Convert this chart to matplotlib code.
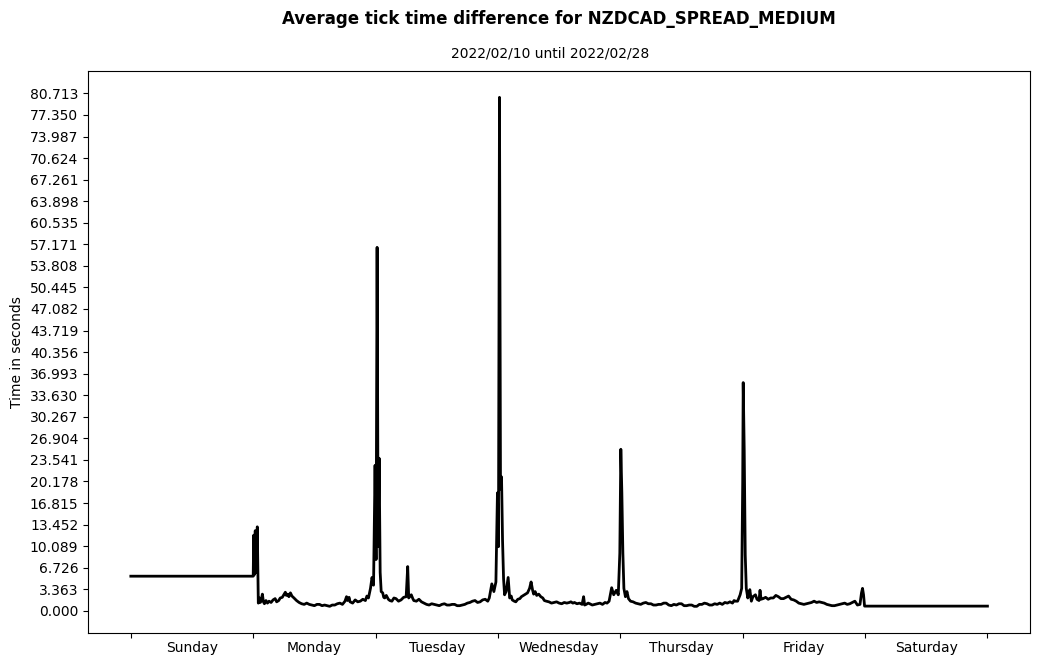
import matplotlib
matplotlib.use("Agg")
import matplotlib.pyplot as plt
from matplotlib.ticker import FixedLocator, NullFormatter, FixedFormatter

# hours since start of the week (Sunday 00:00) and average tick time difference in seconds
hours = [
    0.0, 24.0,
    24.1, 24.2, 24.4, 24.6, 24.8, 25.0, 25.2, 25.4, 25.6, 25.8, 26.0, 26.2, 26.5, 26.8,
    27.1, 27.5, 27.9, 28.3, 28.6, 29.0, 29.3, 29.7, 30.0, 30.3, 30.5, 30.8, 31.0, 31.3,
    31.6, 32.0, 32.5, 33.0, 33.5, 34.0, 34.5, 35.0, 35.5, 36.0, 36.5, 37.0, 37.5, 38.0,
    38.5, 39.0, 39.5, 40.0, 40.5, 41.0, 41.5, 42.0, 42.3, 42.5, 42.8, 43.0, 43.5, 44.0,
    44.5, 45.0, 45.5, 46.0, 46.3, 46.6, 47.0, 47.3, 47.6, 47.9, 48.1, 48.3, 48.5, 48.7,
    48.9, 49.1, 49.4, 49.6, 49.8, 50.1, 50.5, 50.8, 51.2, 51.6, 52.0, 52.5, 53.0, 53.5,
    54.0, 54.3, 54.5, 55.0, 55.3, 55.5, 56.0, 56.5, 57.0, 57.5, 58.0, 58.5, 59.0, 59.5,
    60.0, 60.5, 61.0, 61.5, 62.0, 62.5, 63.0, 63.5, 64.0, 64.5, 65.0, 65.5, 66.0, 66.5,
    67.0, 67.5, 68.0, 68.5, 69.0, 69.5, 70.0, 70.3, 70.8, 71.2, 71.6, 71.9, 72.1, 72.3,
    72.5, 72.7, 72.9, 73.1, 73.3, 73.6, 74.0, 74.3, 74.6, 74.8, 75.2, 75.5, 75.9, 76.3,
    76.6, 77.0, 77.4, 77.8, 78.2, 78.5, 78.8, 79.0, 79.3, 79.6, 80.0, 80.4, 80.8, 81.1,
    81.5, 82.0, 82.5, 83.0, 83.5, 84.0, 84.5, 85.0, 85.5, 86.0, 86.3, 86.7, 87.0, 87.5,
    88.0, 88.5, 88.8, 89.0, 89.3, 89.7, 90.0, 90.5, 91.0, 91.5, 92.0, 92.5, 93.0, 93.4,
    93.8, 94.3, 94.7, 95.2, 95.6, 95.9, 96.1, 96.3, 96.5, 96.7, 97.0, 97.3, 97.6, 98.0,
    98.5, 99.0, 99.5, 100.0, 100.5, 101.0, 101.5, 102.0, 102.5, 103.0, 103.5, 104.0,
    104.5, 105.0, 105.5, 106.0, 106.5, 107.0, 107.5, 108.0, 108.5, 109.0, 109.5, 110.0,
    110.5, 111.0, 111.5, 112.0, 112.5, 113.0, 113.5, 114.0, 114.5, 115.0, 115.5, 116.0,
    116.5, 117.0, 117.5, 118.0, 118.3, 118.6, 119.0, 119.5, 119.8, 120.0, 120.1, 120.3,
    120.5, 120.7, 121.0, 121.2, 121.4, 121.7, 122.0, 122.5, 122.8, 123.2, 123.4, 123.6,
    124.0, 124.5, 125.0, 125.5, 126.0, 126.5, 127.0, 127.5, 128.0, 128.5, 129.0, 129.5,
    130.0, 130.5, 131.0, 131.5, 132.0, 132.5, 133.0, 133.5, 134.0, 134.5, 135.0, 135.5,
    136.0, 136.5, 137.0, 137.5, 138.0, 138.5, 139.0, 139.5, 140.0, 140.5, 141.0, 141.5,
    142.0, 142.5, 143.0, 143.3, 143.5, 143.7, 143.9, 168.0,
]
seconds = [
    5.4, 5.4,
    11.8, 5.6, 12.5, 6.0, 13.1, 1.2, 2.0, 1.3, 1.8, 2.6, 1.4, 1.1, 1.6, 1.2,
    1.5, 1.3, 1.7, 1.9, 1.4, 1.6, 2.0, 2.1, 2.5, 2.9, 2.4, 2.6, 2.2, 2.8,
    2.3, 2.0, 1.6, 1.3, 1.1, 1.0, 1.2, 1.0, 0.9, 0.8, 1.0, 1.0, 0.8, 0.9,
    0.8, 0.7, 0.9, 0.9, 1.1, 1.2, 1.0, 1.5, 2.2, 1.6, 2.1, 1.4, 1.2, 1.7,
    1.4, 1.5, 1.8, 1.6, 2.3, 2.0, 3.5, 5.2, 4.0, 22.7, 8.0, 56.7, 10.0, 23.8,
    6.0, 3.0, 2.8, 2.1, 2.0, 2.4, 1.8, 1.6, 1.5, 2.0, 1.9, 1.5, 1.7, 2.1,
    2.2, 6.9, 2.0, 2.5, 1.9, 1.6, 1.5, 1.8, 1.4, 1.2, 1.0, 0.9, 1.1, 1.0,
    0.9, 0.8, 1.0, 1.1, 0.9, 0.9, 1.0, 1.0, 0.8, 0.8, 0.9, 1.0, 1.2, 1.3,
    1.5, 1.6, 1.3, 1.4, 1.7, 1.8, 1.5, 2.0, 4.2, 3.0, 4.5, 18.4, 10.0, 80.1,
    19.0, 20.9, 11.0, 5.0, 2.5, 3.0, 5.2, 2.0, 2.3, 1.7, 1.5, 1.4, 1.8, 1.9,
    2.2, 2.4, 2.6, 2.8, 3.5, 4.5, 3.2, 2.6, 3.0, 2.4, 2.6, 2.2, 2.0, 1.6,
    1.5, 1.4, 1.2, 1.3, 1.4, 1.2, 1.1, 1.3, 1.2, 1.3, 1.4, 1.2, 1.3, 1.1,
    1.2, 1.0, 2.2, 0.9, 1.0, 1.2, 1.1, 0.9, 1.0, 1.1, 1.2, 1.0, 1.3, 1.2,
    1.5, 3.6, 2.5, 3.2, 2.5, 9.0, 25.2, 18.4, 9.0, 3.5, 2.2, 3.0, 1.9, 1.5,
    1.4, 1.2, 1.1, 1.0, 1.2, 1.3, 1.1, 1.1, 0.9, 0.9, 1.0, 1.0,
    1.2, 1.2, 0.9, 0.8, 1.0, 0.9, 1.1, 1.1, 0.8, 0.8, 0.9, 0.9,
    0.7, 0.7, 1.0, 1.0, 1.2, 1.1, 0.9, 0.9, 1.1, 1.0, 1.2, 1.0,
    1.3, 1.2, 1.4, 1.2, 1.6, 1.5, 1.5, 2.5, 3.5, 20.0, 35.6, 25.0,
    8.7, 3.5, 2.0, 2.6, 3.3, 1.5, 2.2, 2.5, 1.8, 1.6, 3.2, 1.8,
    1.9, 2.1, 1.8, 2.0, 2.0, 2.4, 2.2, 1.9, 1.9, 2.1, 2.3, 1.8,
    1.7, 1.5, 1.2, 1.1, 1.0, 1.1, 1.2, 1.3, 1.5, 1.3, 1.4, 1.3,
    1.2, 1.0, 0.9, 0.8, 0.8, 0.9, 1.0, 1.1, 1.2, 1.0, 1.1, 1.3,
    1.5, 0.9, 1.0, 2.8, 3.5, 2.5, 0.73, 0.73,
]

days = ["Sunday", "Monday", "Tuesday", "Wednesday", "Thursday", "Friday", "Saturday"]
ytick_step = 3.3630287
yticks = [ytick_step * i for i in range(25)]

fig = plt.figure(figsize=(10.39, 6.64), dpi=100)
ax = fig.add_axes([0.0847, 0.047, 0.9069, 0.846])
ax.plot(hours, seconds, color="black", linewidth=2)

ax.set_xlim(-8.4, 176.4)
ax.set_ylim(-3.43, 84.2)
ax.set_yticks(yticks)
ax.set_yticklabels(["%.3f" % t for t in yticks])

ax.xaxis.set_major_locator(FixedLocator([24 * i for i in range(8)]))
ax.xaxis.set_major_formatter(NullFormatter())
ax.xaxis.set_minor_locator(FixedLocator([24 * i + 12 for i in range(7)]))
ax.xaxis.set_minor_formatter(FixedFormatter(days))
ax.tick_params(axis="x", which="minor", length=0, pad=6)

ax.set_ylabel("Time in seconds")
fig.text(0.529, 0.919, "2022/02/10 until 2022/02/28", fontsize=10, ha="center", va="center")
fig.suptitle("Average tick time difference for NZDCAD_SPREAD_MEDIUM", fontsize=12,
             fontweight="bold", x=0.538, y=0.985)

fig.savefig("out.png", dpi=100)
